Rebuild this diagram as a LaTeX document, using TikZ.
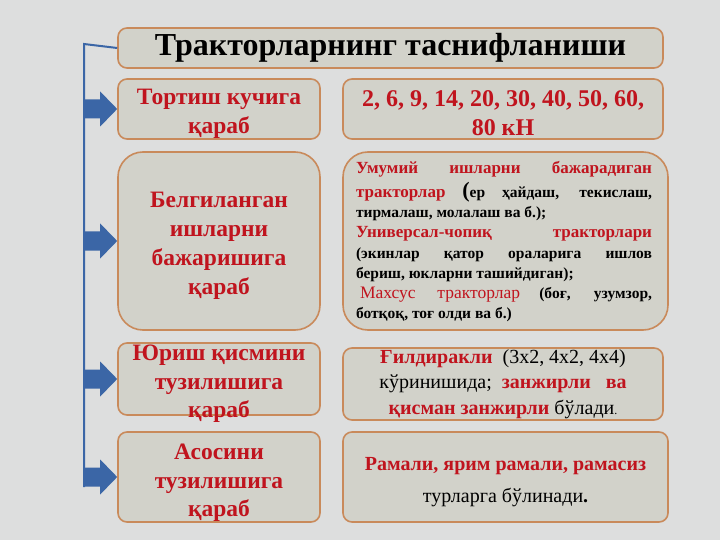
\documentclass[tikz,border=0pt]{standalone}
\usepackage{fontspec}
\setmainfont{Liberation Serif}
\usetikzlibrary{calc}
\definecolor{bg}{HTML}{DDDEDE}
\definecolor{boxfill}{HTML}{D2D2CA}
\definecolor{boxline}{HTML}{C98A5B}
\definecolor{txtred}{HTML}{C0141E}
\definecolor{arrblue}{HTML}{3B66A6}
\newcommand{\rd}[1]{\textcolor{txtred}{#1}}
\newcommand{\blockarr}[1]{%
  \fill[arrblue] ($(#1.west)+(-34,-9.5)$) -- ++(17,0) -- ++(0,-8) -- (#1.west)
    -- ($(#1.west)+(-17,17.5)$) -- ++(0,-8) -- ++(-17,0) -- cycle;}
\begin{document}
\begin{tikzpicture}[x=1pt,y=-1pt,
  box/.style={draw=boxline, line width=1.6pt, fill=boxfill, rounded corners=9pt, inner sep=0pt},
  ltxt/.style={align=center, text=txtred, inner sep=0pt, font=\fontsize{23.5}{28.5}\selectfont\bfseries},
  spine/.style={draw=arrblue, line width=2pt}]
\fill[bg] (0,0) rectangle (720,540);
\useasboundingbox (0,0) rectangle (720,540);
% title
\node[box, minimum width=545pt, minimum height=40pt, font=\fontsize{32}{34}\selectfont\bfseries] (T) at (390.5,48) {Тракторларнинг таснифланиши};
% row 1
\node[box, minimum width=202pt, minimum height=60pt] (L1) at (219,109) {};
\node[ltxt] (L1t) at (219,114) {Тортиш кучига\\қараб};
\node[box, minimum width=320pt, minimum height=60pt] (R1) at (503,109) {};
\node[ltxt, font=\fontsize{24}{29}\selectfont\bfseries] (R1t) at (503,113) {2, 6, 9, 14, 20, 30, 40, 50, 60,\\80 кН};
% row 2
\node[box, rounded corners=25pt, minimum width=202pt, minimum height=178pt] (L2) at (219,241) {};
\node[ltxt, font=\fontsize{23.5}{29}\selectfont\bfseries] (L2t) at (219,246) {Белгиланган\\ишларни\\бажаришига\\қараб};
\node[box, rounded corners=25pt, minimum width=325pt, minimum height=178pt] (R2) at (505.5,241) {};
\node[text width=296pt, align=justify, font=\fontsize{15.5}{20.3}\selectfont\bfseries, inner sep=0pt] (R2t) at (504,242)
{\rd{\fontsize{17}{20.3}\selectfont Умумий ишларни бажарадиган}\vspace{3pt}\linebreak
\rd{\fontsize{17}{20.3}\selectfont тракторлар} {\fontsize{22}{20.3}\selectfont(}ер ҳайдаш, текислаш,\linebreak
тирмалаш, молалаш ва б.);\\
\rd{\fontsize{17}{20.3}\selectfont Универсал-чопиқ тракторлари}\linebreak
(экинлар қатор ораларига ишлов\linebreak
бериш, юкларни ташийдиган);\\
\hspace*{4pt}\rd{\fontsize{17.5}{20.3}\selectfont\mdseries Махсус тракторлар} (боғ, узумзор,\linebreak
ботқоқ, тоғ олди ва б.)};
% row 3
\node[box, minimum width=202pt, minimum height=72pt] (L3) at (219,379) {};
\node[ltxt] (L3t) at (219,384) {Юриш қисмини\\тузилишига\\қараб};
\node[box, minimum width=320pt, minimum height=72pt, align=center, font=\fontsize{20}{25.5}\selectfont] (R3) at (503,384)
{\rd{\bfseries Ғилдиракли}\ \ (3x2, 4x2, 4x4)\\
кўринишида;\ \ \rd{\bfseries занжирли\ \ \ ва}\\
\rd{\bfseries қисман занжирли} бўлади{\fontsize{12}{12}\selectfont .}};
% row 4
\node[box, minimum width=325pt, minimum height=90pt] (R4) at (505.5,477) {};
\node[align=center, inner sep=0pt, font=\fontsize{20}{32}\selectfont] (R4t) at (505.5,482)
{\rd{\bfseries Рамали, ярим рамали, рамасиз}\\
турларга бўлинади\textbf{.}};
\node[box, minimum width=202pt, minimum height=90pt] (L4) at (219,477) {};
\node[ltxt] (L4t) at (219,483) {Асосини\\тузилишига\\қараб};
% spine and arrows
\coordinate (s0) at (84,44);
\coordinate (s1) at (84,487);
\draw[spine] (T.west) -- (s0) -- (s1);
\blockarr{L1}
\blockarr{L2}
\blockarr{L3}
\blockarr{L4}
\end{tikzpicture}
\end{document}
